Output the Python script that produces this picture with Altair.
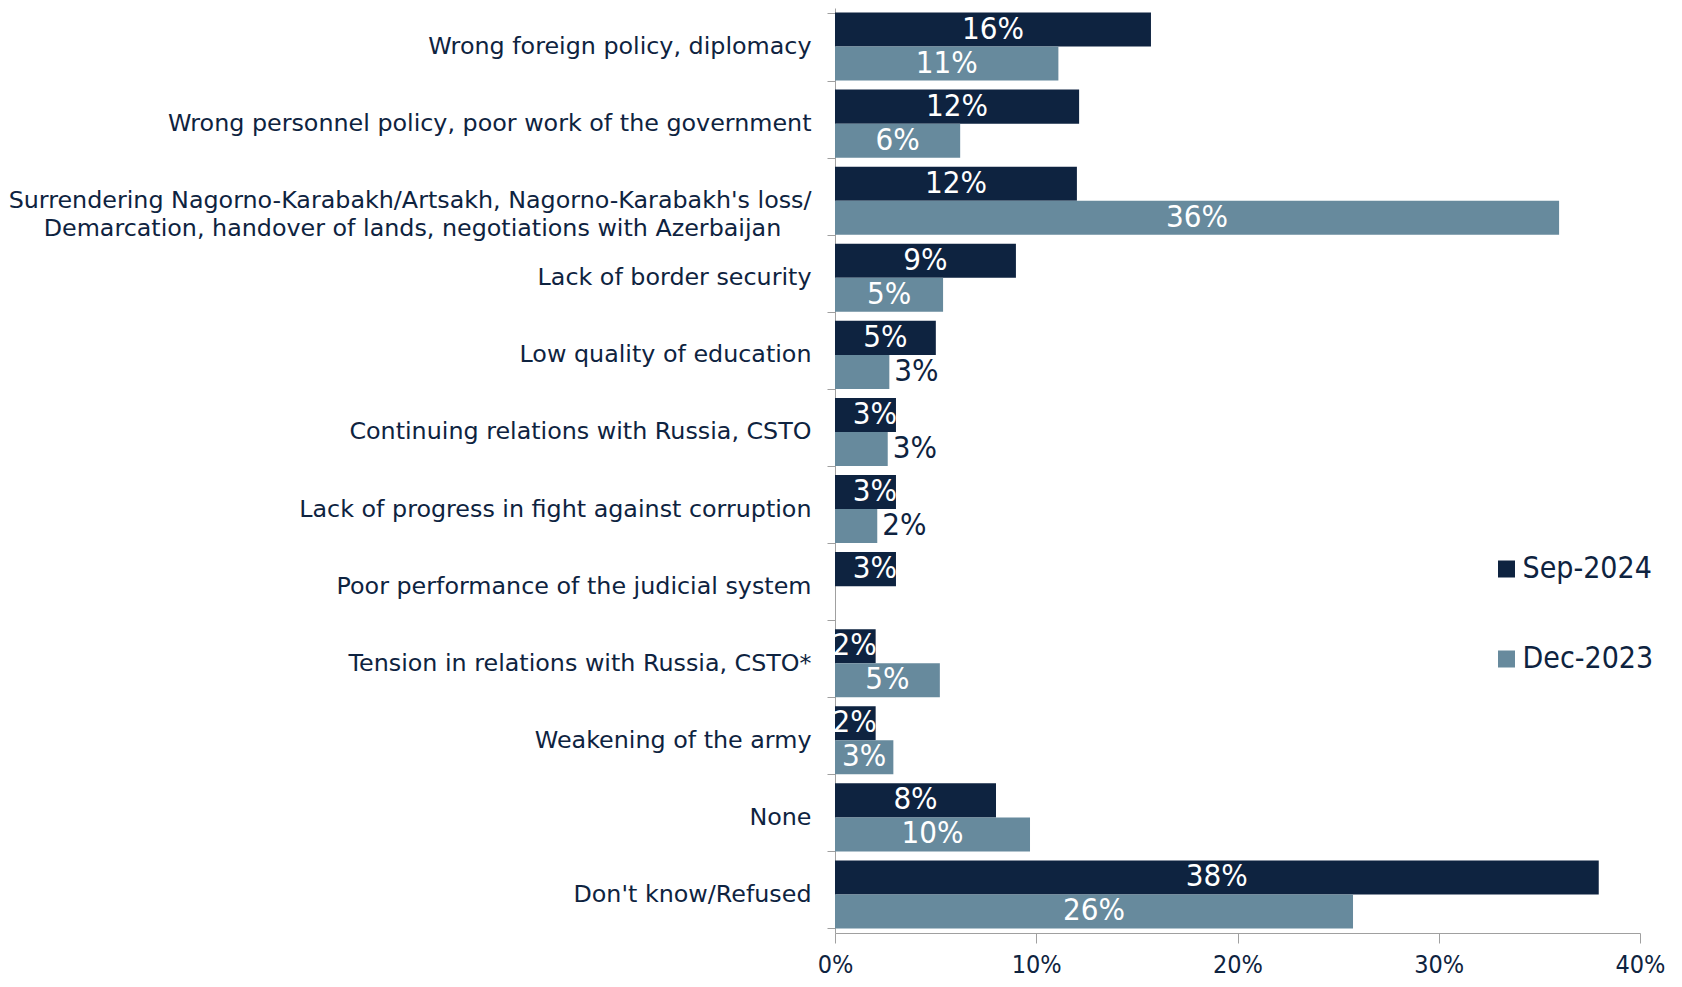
import altair as alt
import pandas as pd

categories = [
    "Wrong foreign policy, diplomacy",
    "Wrong personnel policy, poor work of the government",
    "Surrendering Nagorno-Karabakh/Artsakh, Nagorno-Karabakh's loss/|Demarcation, handover of lands, negotiations with Azerbaijan",
    "Lack of border security",
    "Low quality of education",
    "Continuing relations with Russia, CSTO",
    "Lack of progress in fight against corruption",
    "Poor performance of the judicial system",
    "Tension in relations with Russia, CSTO*",
    "Weakening of the army",
    "None",
    "Don't know/Refused",
]
series = ["Sep-2024", "Dec-2023"]
sep_2024 = [15.70, 12.13, 12.02, 8.99, 5.01, 3.03, 3.03, 3.03, 2.02, 2.02, 8.00, 37.95]
dec_2023 = [11.10, 6.22, 35.98, 5.37, 2.70, 2.62, 2.10, None, 5.21, 2.90, 9.69, 25.74]
x_ticks = [0, 10, 20, 30, 40]

NAVY = "#0E2340"
STEEL = "#678A9D"
GRAY = "#A0A0A0"
NARROW = "DejaVu Sans Condensed, sans-serif"
LABEL_FONT = "DejaVu Sans, Verdana, sans-serif"


def placement(s, v):
    if s == "Dec-2023" and v < 2.8:
        return "outside"
    if s == "Sep-2024" and v < 4:
        return "end"
    return "center"


rows = []
for s, vals in zip(series, [sep_2024, dec_2023]):
    for c, v in zip(categories, vals):
        if v is None:
            continue
        p = placement(s, v)
        rows.append({
            "category": c,
            "series": s,
            "value": v,
            "label": f"{round(v)}%",
            "placement": p,
            "lpos": v / 2 if p == "center" else v,
        })
df = pd.DataFrame(rows)

NB = "\u00a0"
ZW = "\u200b"
label_expr = (
    "indexof(datum.label, '|') >= 0 ? "
    "[split(datum.label, '|')[0], split(datum.label, '|')[1] + '" + NB * 4 + ZW + "'] : datum.label"
)

y_enc = alt.Y(
    "category:N",
    sort=categories,
    scale=alt.Scale(paddingInner=0.117, paddingOuter=0.0585),
    axis=alt.Axis(
        title=None,
        labelExpr=label_expr,
        labelFont=LABEL_FONT,
        labelFontSize=23.8,
        labelColor=NAVY,
        labelLineHeight=28,
        labelPadding=16,
        labelLimit=0,
        tickSize=8,
        tickBand="extent",
        tickColor=GRAY,
        domainColor=GRAY,
    ),
)
yoff_enc = alt.YOffset("series:N", sort=series, scale=alt.Scale(paddingInner=0, paddingOuter=0))


def x_enc(field):
    return alt.X(
        f"{field}:Q",
        scale=alt.Scale(domain=[0, 40], nice=False),
        axis=alt.Axis(
            title=None,
            values=x_ticks,
            labelExpr="datum.value + '%'",
            grid=False,
            tickSize=10,
            tickColor=GRAY,
            domainColor=GRAY,
            labelFont=NARROW,
            labelFontSize=25,
            labelColor=NAVY,
            labelBaseline="alphabetic",
            labelFlush=False,
            labelPadding=29,
        ),
    )


base = alt.Chart(df)

bars = base.mark_bar().encode(
    x=x_enc("value"),
    y=y_enc,
    yOffset=yoff_enc,
    color=alt.Color(
        "series:N",
        sort=series,
        scale=alt.Scale(domain=series, range=[NAVY, STEEL]),
        legend=alt.Legend(
            orient="none",
            legendX=656.5,
            legendY=546,
            title=None,
            symbolType="square",
            symbolSize=289,
            symbolStrokeWidth=0,
            labelFont=NARROW,
            labelFontSize=30,
            labelColor=NAVY,
            rowPadding=60,
            labelOffset=1,
            padding=0,
        ),
    ),
)

txt_center = base.transform_filter("datum.placement == 'center'").mark_text(
    font=NARROW, fontSize=31, color="white", align="center", baseline="middle"
).encode(x=x_enc("lpos"), y=y_enc, yOffset=yoff_enc, text="label:N")

txt_end = base.transform_filter("datum.placement == 'end'").mark_text(
    font=NARROW, fontSize=31, color="white", align="right", baseline="middle", dx=1
).encode(x=x_enc("lpos"), y=y_enc, yOffset=yoff_enc, text="label:N")

txt_out = base.transform_filter("datum.placement == 'outside'").mark_text(
    font=NARROW, fontSize=31, color=NAVY, align="left", baseline="middle", dx=5
).encode(x=x_enc("lpos"), y=y_enc, yOffset=yoff_enc, text="label:N")

chart = (
    alt.layer(bars, txt_center, txt_end, txt_out)
    .properties(
        width=805,
        height=925,
        autosize="none",
        padding={"left": 827, "top": 0, "right": 30, "bottom": 46},
    )
    .configure_view(stroke=None)
)

chart.save("out.html", embed_options={"renderer": "svg", "actions": False})
